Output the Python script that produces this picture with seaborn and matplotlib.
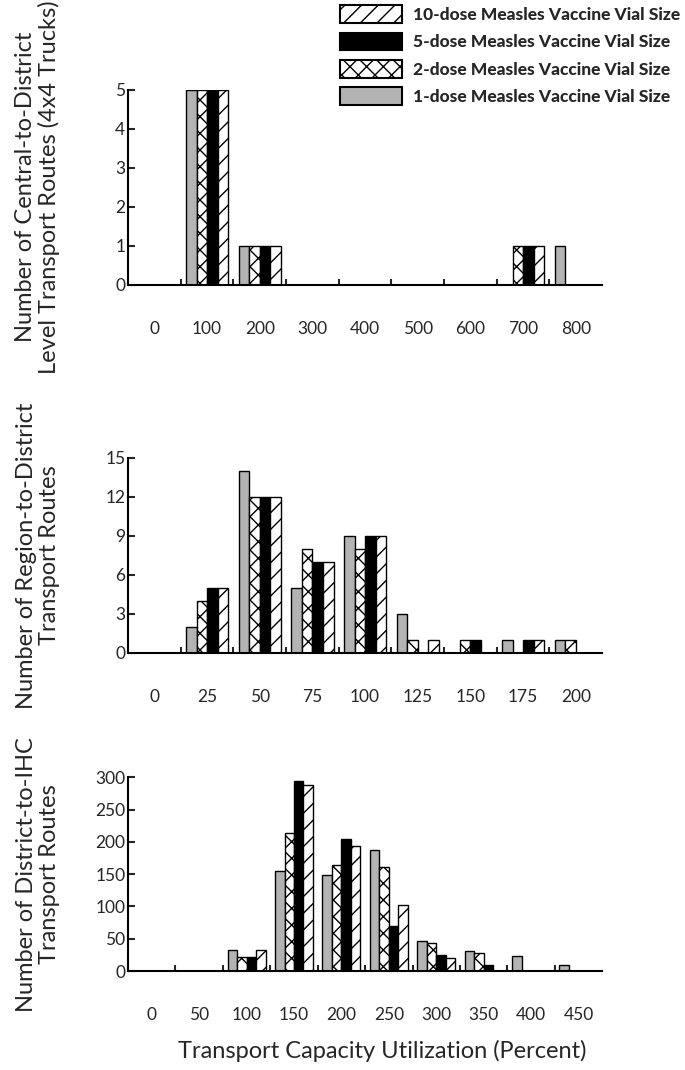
import seaborn as sns
import matplotlib.pyplot as plt
import pandas as pd
from matplotlib.patches import Patch

# valores
series = ['1-dose', '2-dose', '5-dose', '10-dose']

top_cats = ['0', '100', '200', '300', '400', '500', '600', '700', '800']
top_1dose = [0, 5, 1, 0, 0, 0, 0, 0, 1]
top_2dose = [0, 5, 1, 0, 0, 0, 0, 1, 0]
top_5dose = [0, 5, 1, 0, 0, 0, 0, 1, 0]
top_10dose = [0, 5, 1, 0, 0, 0, 0, 1, 0]

mid_cats = ['0', '25', '50', '75', '100', '125', '150', '175', '200']
mid_1dose = [0, 2, 14, 5, 9, 3, 0, 1, 1]
mid_2dose = [0, 4, 12, 8, 8, 1, 1, 0, 1]
mid_5dose = [0, 5, 12, 7, 9, 0, 1, 1, 0]
mid_10dose = [0, 5, 12, 7, 9, 1, 0, 1, 0]

bot_cats = ['0', '50', '100', '150', '200', '250', '300', '350', '400', '450']
bot_1dose = [0, 0, 32, 155, 148, 187, 47, 31, 24, 9]
bot_2dose = [0, 0, 22, 214, 165, 161, 44, 28, 0, 0]
bot_5dose = [0, 0, 21, 295, 204, 69, 25, 10, 0, 0]
bot_10dose = [0, 0, 32, 288, 194, 103, 20, 0, 0, 0]

sns.set_style('white')
plt.rcParams['font.family'] = ['Lato', 'DejaVu Sans']
plt.rcParams['hatch.linewidth'] = 1.0

colors = {'1-dose': '#b3b3b3', '2-dose': 'white', '5-dose': 'black', '10-dose': 'white'}
hatches = {'1-dose': '', '2-dose': 'xx', '5-dose': '', '10-dose': '//'}


def long_df(cats, a, b, c, d):
    df = pd.DataFrame({'cat': cats, '1-dose': a, '2-dose': b, '5-dose': c, '10-dose': d})
    return df.melt(id_vars='cat', var_name='vial', value_name='n')


fig = plt.figure(figsize=(6.85, 10.7), dpi=100)
ax1 = fig.add_axes([0.187, 0.734, 0.692, 0.182])
ax2 = fig.add_axes([0.187, 0.390, 0.692, 0.182])
ax3 = fig.add_axes([0.187, 0.0925, 0.692, 0.181])

paneles = [
    (ax1, long_df(top_cats, top_1dose, top_2dose, top_5dose, top_10dose), top_cats, 5, 1,
     'Number of Central-to-District\nLevel Transport Routes (4x4 Trucks)'),
    (ax2, long_df(mid_cats, mid_1dose, mid_2dose, mid_5dose, mid_10dose), mid_cats, 15, 3,
     'Number of Region-to-District\nTransport Routes'),
    (ax3, long_df(bot_cats, bot_1dose, bot_2dose, bot_5dose, bot_10dose), bot_cats, 300, 50,
     'Number of District-to-IHC\nTransport Routes'),
]

for ax, df, cats, ymax, step, ylab in paneles:
    sns.barplot(data=df, x='cat', y='n', hue='vial', order=cats, hue_order=series,
                palette=colors, edgecolor='black', linewidth=1, width=0.8,
                saturation=1, legend=False, ax=ax)
    for cont, s in zip(ax.containers, series):
        for bar in cont:
            bar.set_hatch(hatches[s])
            if bar.get_height() == 0:
                bar.set_visible(False)
    ax.set_xlim(-0.5, len(cats) - 0.5)
    ax.set_ylim(0, ymax)
    ax.set_yticks(range(0, ymax + 1, step))
    ax.set_xticks(range(len(cats)))
    ax.set_xticklabels(cats)
    ax.set_xticks([i + 0.5 for i in range(len(cats) - 1)], minor=True)
    ax.tick_params(axis='x', which='major', length=0, pad=26, labelsize=12.5)
    ax.tick_params(axis='x', which='minor', direction='in', length=4, width=1.5, bottom=True)
    ax.tick_params(axis='y', direction='in', length=5, width=1.5, labelsize=12.5, left=True, pad=2)
    sns.despine(ax=ax)
    for sp in ['left', 'bottom']:
        ax.spines[sp].set_linewidth(1.5)
        ax.spines[sp].set_color('black')
    ax.set_xlabel('')
    ax.set_ylabel(ylab, fontsize=17, linespacing=1.15)
    ax.yaxis.set_label_coords(-0.143, 0.5)

fig.text(0.558, 0.011, 'Transport Capacity Utilization (Percent)', ha='center', va='baseline',
         fontsize=17)

# leyenda arriba a la derecha, en orden inverso
labels = {'1-dose': '1-dose Measles Vaccine Vial Size', '2-dose': '2-dose Measles Vaccine Vial Size',
          '5-dose': '5-dose Measles Vaccine Vial Size', '10-dose': '10-dose Measles Vaccine Vial Size'}
handles = [Patch(facecolor=colors[s], edgecolor='black', hatch=hatches[s], linewidth=1.5,
                 label=labels[s]) for s in series[::-1]]
fig.legend(handles=handles, loc='upper right', bbox_to_anchor=(1.0, 1.0), frameon=False,
           borderaxespad=0.1, borderpad=0.2,
           handlelength=3.6, handleheight=1.2, labelspacing=0.55, handletextpad=0.6,
           prop={'family': ['Lato', 'DejaVu Sans'], 'weight': 'black', 'size': 12.5})

plt.savefig('out.png', dpi=100)
